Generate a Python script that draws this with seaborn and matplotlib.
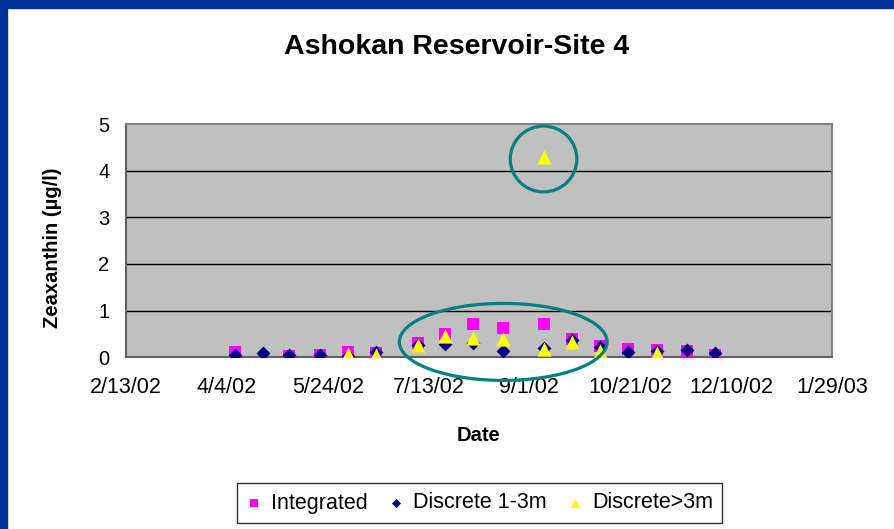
import matplotlib
matplotlib.use('Agg')
import matplotlib.pyplot as plt
from matplotlib.patches import Ellipse, Rectangle
import seaborn as sns
import pandas as pd

# Integrated samples
int_dates = ['2002-04-08', '2002-05-05', '2002-05-20', '2002-06-03', '2002-06-17',
             '2002-07-08', '2002-07-21', '2002-08-04', '2002-08-19', '2002-09-08',
             '2002-09-22', '2002-10-06', '2002-10-20', '2002-11-03', '2002-11-18',
             '2002-12-02']
int_vals = [0.11, 0.03, 0.05, 0.11, 0.09, 0.30, 0.49, 0.71, 0.62, 0.71,
            0.39, 0.24, 0.17, 0.16, 0.14, 0.06]

# Discrete 1-3m
d13_dates = ['2002-04-08', '2002-04-22', '2002-05-05', '2002-05-20', '2002-06-03',
             '2002-06-17', '2002-07-08', '2002-07-21', '2002-08-04', '2002-08-19',
             '2002-09-08', '2002-09-22', '2002-10-06', '2002-10-20', '2002-11-03',
             '2002-11-18', '2002-12-02']
d13_vals = [0.05, 0.09, 0.05, 0.06, 0.03, 0.12, 0.27, 0.29, 0.31, 0.135,
            0.21, 0.37, 0.22, 0.12, 0.13, 0.16, 0.09]

# Discrete >3m
d3_dates = ['2002-06-03', '2002-06-17', '2002-07-08', '2002-07-21', '2002-08-04',
            '2002-08-19', '2002-09-08', '2002-09-08', '2002-09-22', '2002-10-06',
            '2002-11-03']
d3_vals = [0.08, 0.04, 0.26, 0.46, 0.42, 0.39, 0.18, 4.30, 0.32, 0.13, 0.09]

tick_dates = ['2002-02-13', '2002-04-04', '2002-05-24', '2002-07-13', '2002-09-01',
              '2002-10-21', '2002-12-10', '2003-01-29']
tick_labels = ['2/13/02', '4/4/02', '5/24/02', '7/13/02', '9/1/02',
               '10/21/02', '12/10/02', '1/29/03']

df_int = pd.DataFrame({'Date': pd.to_datetime(int_dates), 'Zeaxanthin': int_vals})
df_d13 = pd.DataFrame({'Date': pd.to_datetime(d13_dates), 'Zeaxanthin': d13_vals})
df_d3 = pd.DataFrame({'Date': pd.to_datetime(d3_dates), 'Zeaxanthin': d3_vals})

sns.set_style("white")
plt.rcParams['font.family'] = ['Liberation Sans', 'DejaVu Sans']
plt.rcParams['text.color'] = 'black'
plt.rcParams['axes.labelcolor'] = 'black'
plt.rcParams['xtick.color'] = 'black'
plt.rcParams['ytick.color'] = 'black'

fig = plt.figure(figsize=(8.95, 5.29), dpi=100)
W, H = 895, 529
ax = fig.add_axes([126/W, 1-357.3/H, 706/W, 233.3/H])
ax.set_facecolor('#C0C0C0')

# blue frame
fig.patches.append(Rectangle((0, 1-8/H), 1, 8/H, transform=fig.transFigure,
                             color='#003399', zorder=-1))
fig.patches.append(Rectangle((0, 0), 7/W, 1, transform=fig.transFigure,
                             color='#003399', zorder=-1))

sns.scatterplot(data=df_int, x='Date', y='Zeaxanthin', marker='s', color='#FF00FF',
                s=85, linewidth=0, label='Integrated', ax=ax, zorder=3)
sns.scatterplot(data=df_d13, x='Date', y='Zeaxanthin', marker='D', color='#000080',
                s=50, linewidth=0, label='Discrete 1-3m', ax=ax, zorder=4)
sns.scatterplot(data=df_d3, x='Date', y='Zeaxanthin', marker='^', color='#FFFF00',
                s=105, linewidth=0, label='Discrete>3m', ax=ax, zorder=5)

xt = pd.to_datetime(tick_dates)
ax.set_xlim(xt[0], xt[-1])
ax.set_ylim(0, 5)
ax.set_xticks(xt)
ax.set_xticklabels(tick_labels, fontsize=15.5)
ax.set_yticks(range(6))
ax.set_yticklabels([str(i) for i in range(6)], fontsize=14.5)
ax.tick_params(axis='both', direction='out', length=6, width=1, color='#606060',
               pad=6, labelcolor='black')
ax.tick_params(axis='x', pad=8)
for y in range(1, 5):
    ax.axhline(y, color='black', lw=1, zorder=1)
for sp in ax.spines.values():
    sp.set_color('#808080')
    sp.set_linewidth(1.5)
ax.spines['left'].set_color('#606060')
ax.spines['bottom'].set_color('#606060')
ax.set_xlabel('')
ax.set_ylabel('')

# highlight ellipses
x_out = pd.Timestamp('2002-09-08')
circ = Ellipse((matplotlib.dates.date2num(x_out), 4.25), width=33, height=1.41,
               fill=False, ec='#008080', lw=2.3, zorder=6, clip_on=False)
ax.add_patch(circ)
big = Ellipse((matplotlib.dates.date2num(pd.Timestamp('2002-08-19')), 0.33),
              width=103, height=1.65, fill=False, ec='#008080', lw=2.3,
              zorder=6, clip_on=False)
ax.add_patch(big)

fig.text(457/W, 1-47/H, 'Ashokan Reservoir-Site 4', ha='center', va='center',
         fontsize=20.5, fontweight='bold', color='black')
fig.text(479/W, 1-435.7/H, 'Date', ha='center', va='center',
         fontsize=14.5, fontweight='bold', color='black')
fig.text(53/W, 1-247.5/H, 'Zeaxanthin (µg/l)', ha='center', va='center',
         rotation=90, fontsize=14.5, fontweight='bold', color='black')

handles, labels = ax.get_legend_handles_labels()
if ax.get_legend() is not None:
    ax.get_legend().remove()
leg = fig.legend(handles, labels, loc='center', bbox_to_anchor=(479.5/W, 1-503/H),
                 ncol=3, fontsize=15.5, frameon=True, fancybox=False, markerscale=0.65,
                 handlelength=0.7, handletextpad=0.45, columnspacing=0.95,
                 borderpad=0.45, borderaxespad=0, edgecolor='black')
leg.get_frame().set_linewidth(1)
for t in leg.get_texts():
    t.set_color('black')

plt.savefig('out.png', dpi=100)
